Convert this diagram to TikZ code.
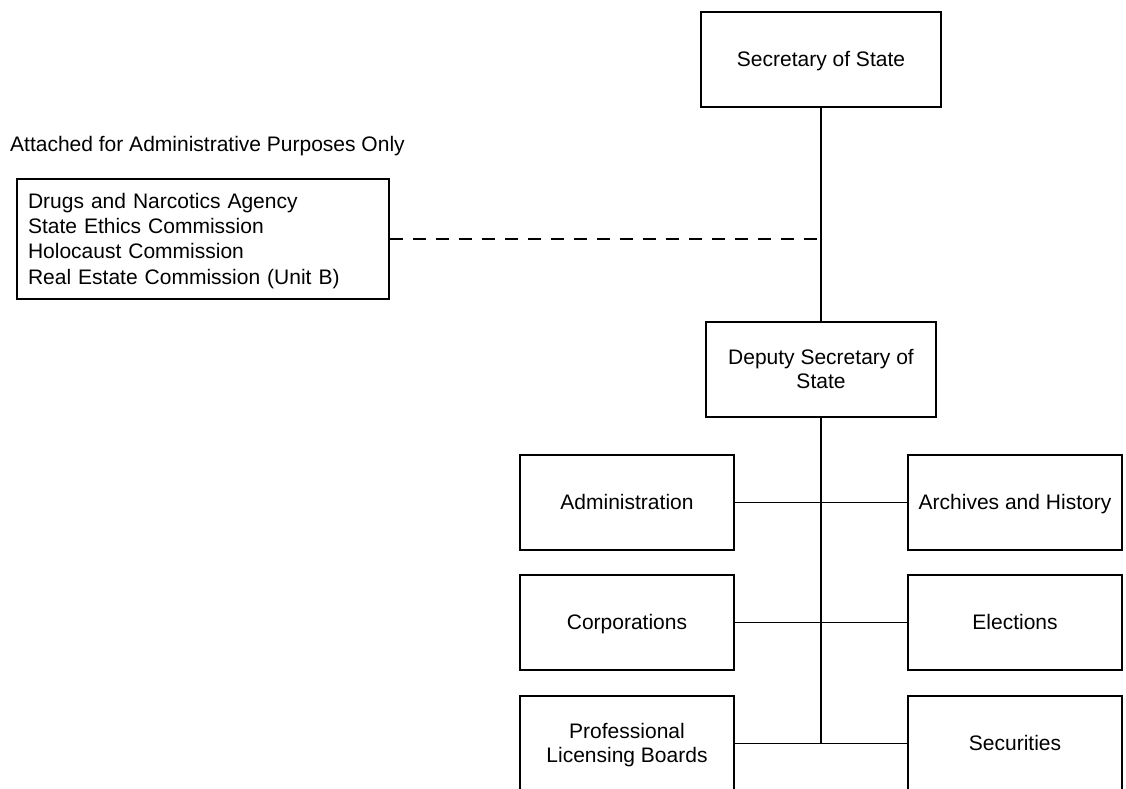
\documentclass[tikz,border=0pt]{standalone}
\usepackage{fontspec}
\setmainfont{Liberation Sans}
\newcommand\orgstrut{\rule[-4.5pt]{0pt}{23.5pt}}
\begin{document}
\begin{tikzpicture}[x=1pt,y=-1pt,
  every node/.style={font=\fontsize{21}{24.2}\selectfont},
  orgbox/.style={draw, line width=1.6pt, minimum height=95pt, inner sep=0pt, align=center},
  link/.style={line width=1.6pt},
  dashlink/.style={line width=1.6pt, dash pattern=on 13pt off 10pt}]
\clip (0,0) rectangle (1126,788);
\fill[white] (0,0) rectangle (1126,788);

\node[orgbox, minimum width=240pt] (sec) at (821,59.5) {\orgstrut Secretary of State};
\node[orgbox, minimum width=230pt] (dep) at (821,369.5) {\orgstrut Deputy Secretary of\\\orgstrut State};

\node[anchor=base west, inner sep=0pt] (note) at (10,151) {Attached for Administrative Purposes Only};
\node[draw, line width=1.6pt, minimum width=372pt, minimum height=120pt,
      text width=350pt, inner xsep=11pt, inner ysep=0pt, align=left,
      font=\fontsize{21}{25.4}\selectfont] (att) at (203,239)
  {\orgstrut Drugs and Narcotics Agency\\\orgstrut State Ethics Commission\\\orgstrut Holocaust Commission\\\orgstrut Real Estate Commission (Unit B)};

\node[orgbox, minimum width=214pt] (adm) at (627,502.5) {\orgstrut Administration};
\node[orgbox, minimum width=214pt] (arc) at (1015,502.5) {\orgstrut Archives and History};
\node[orgbox, minimum width=214pt] (cor) at (627,622.5) {\orgstrut Corporations};
\node[orgbox, minimum width=214pt] (ele) at (1015,622.5) {\orgstrut Elections};
\node[orgbox, minimum width=214pt] (pro) at (627,743.5) {\orgstrut Professional\\\orgstrut Licensing Boards};
\node[orgbox, minimum width=214pt] (sec2) at (1015,743.5) {\orgstrut Securities};

\coordinate (junc) at (att.east -| sec.south);
\coordinate (trunkend) at (pro.east -| dep.south);

\draw[link] (sec.south) -- (dep.north);
\draw[dashlink] (att.east) -- (junc);
\draw[link] (dep.south) -- (trunkend);
\draw[link] (adm.east) -- (arc.west);
\draw[link] (cor.east) -- (ele.west);
\draw[link] (pro.east) -- (sec2.west);
\end{tikzpicture}
\end{document}
